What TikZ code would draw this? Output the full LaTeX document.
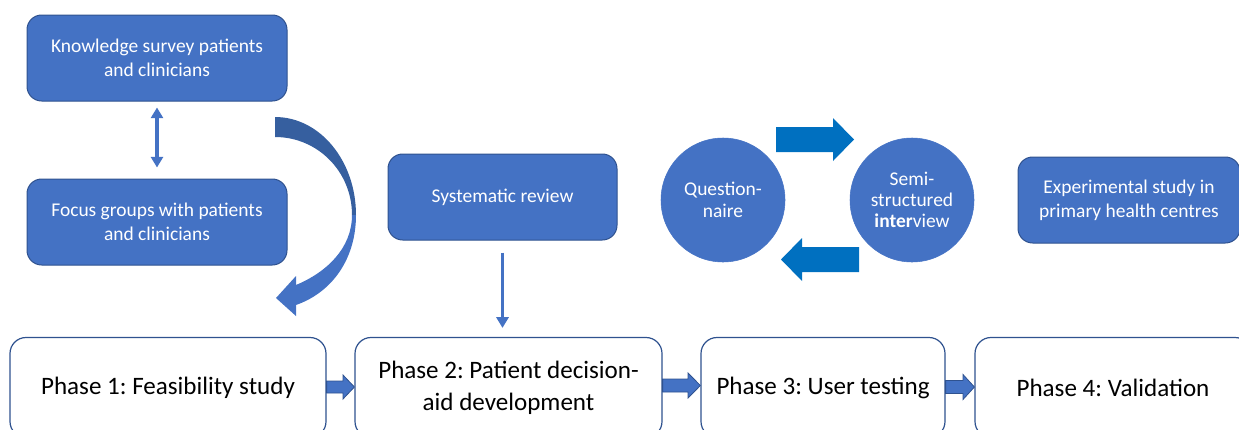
\documentclass[tikz,border=0pt]{standalone}
\usepackage{fontspec}
\setmainfont{Carlito}
\usetikzlibrary{arrows.meta,calc}
\definecolor{boxblue}{HTML}{4472C4}
\definecolor{edgeblue}{HTML}{2F528F}
\definecolor{arrowblue}{HTML}{0070C0}
\definecolor{shadeblue}{HTML}{365F9F}
\frenchspacing
\begin{document}
\begin{tikzpicture}[x=0.75pt,y=-0.75pt,
  bluebox/.style={draw=edgeblue, line width=0.75pt, fill=boxblue, rounded corners=11pt,
    text=white, align=center, minimum height=64.5pt, inner sep=0pt,
    font=\fontsize{14.6}{18}\selectfont},
  phasebox/.style={draw=edgeblue, line width=0.9pt, fill=white, rounded corners=12pt,
    align=center, minimum height=75pt, inner sep=0pt,
    font=\fontsize{18.8}{24}\selectfont},
  bubble/.style={circle, fill=boxblue, draw=boxblue, minimum size=93pt, inner sep=0pt,
    text=white, align=center, font=\fontsize{14.6}{16}\selectfont},
  thinline/.style={draw=boxblue, line width=2.5pt},
  thintip/.tip={Triangle[width=9pt,length=8pt]},
  blockarrow/.style={fill=arrowblue},
  phasearrow/.style={fill=boxblue, draw=edgeblue, line width=0.6pt}
]
\useasboundingbox (0,0) rectangle (1239,429);
\clip (0,0) rectangle (1239,429);

% source activities
\node[bluebox, minimum width=195pt] (know) at (157,58) {Knowledge survey patients\\and clinicians};
\node[bluebox, minimum width=195pt] (focus) at (157,222) {Focus groups with patients\\and clinicians};
\node[bluebox, minimum width=171.75pt] (sysrev) at (502.5,197) {Systematic review};
\node[bluebox, minimum width=166.5pt] (exper) at (1129,200) {Experimental study in\\primary health centres};

% user-testing cycle
\node[bubble] (quest) at (723,200) {Question-\\naire};
\node[bubble] (semi) at (912,200) {Semi-\\structured\\\textbf{inter}view};

% phases
\node[phasebox, minimum width=237pt] (p1) at (168,387.5) {Phase 1: Feasibility study};
\node[phasebox, minimum width=230.25pt] (p2) at (508.5,387.5) {Phase 2: Patient decision-\\aid development};
\node[phasebox, minimum width=183pt] (p3) at (823,387.5) {Phase 3: User testing};
\node[phasebox, minimum width=207pt] (p4) at (1113,387.5) {Phase 4: Validation};

% thin connectors
\draw[thinline, thintip-thintip, shorten <=4.5pt, shorten >=8.25pt] (know.south) -- (focus.north);
\draw[thinline, -thintip, shorten <=9pt, shorten >=6.75pt] (sysrev.south) -- (sysrev.south |- p2.north);

% curved arrow from the first stage down to phase 1
\fill[shadeblue] (275,117) .. controls (320,117) and (356,161) .. (356,215)
  -- (352,215) .. controls (352,172) and (318,137) .. (275,137) -- cycle;
\fill[boxblue] (356,215) .. controls (356,258) and (333,292) .. (296,305)
  -- (296,316) -- (276,298) -- (296,276) -- (296,285)
  .. controls (327,272) and (352,248) .. (352,215) -- cycle;

% cycle arrows between questionnaire and interview
\fill[blockarrow] (776,127) -- (833,127) -- (833,118) -- (854,139.5) -- (833,161) -- (833,152) -- (776,152) -- cycle;
\fill[blockarrow] (859,247) -- (802,247) -- (802,238) -- (781,259.5) -- (802,281) -- (802,272) -- (859,272) -- cycle;

% arrows between phases
\draw[phasearrow] (p1.east |- 0,381) -- (343,381) -- (343,375) -- (p2.west |- 0,387) -- (343,399) -- (343,393) -- (p1.east |- 0,393) -- cycle;
\draw[phasearrow] (p2.east |- 0,379) -- (688,379) -- (688,373) -- (p3.west |- 0,385.5) -- (688,398) -- (688,392) -- (p2.east |- 0,392) -- cycle;
\draw[phasearrow] (p3.east |- 0,380.5) -- (963,380.5) -- (963,374.5) -- (p4.west |- 0,387) -- (963,399.5) -- (963,393.5) -- (p3.east |- 0,393.5) -- cycle;
\end{tikzpicture}
\end{document}
